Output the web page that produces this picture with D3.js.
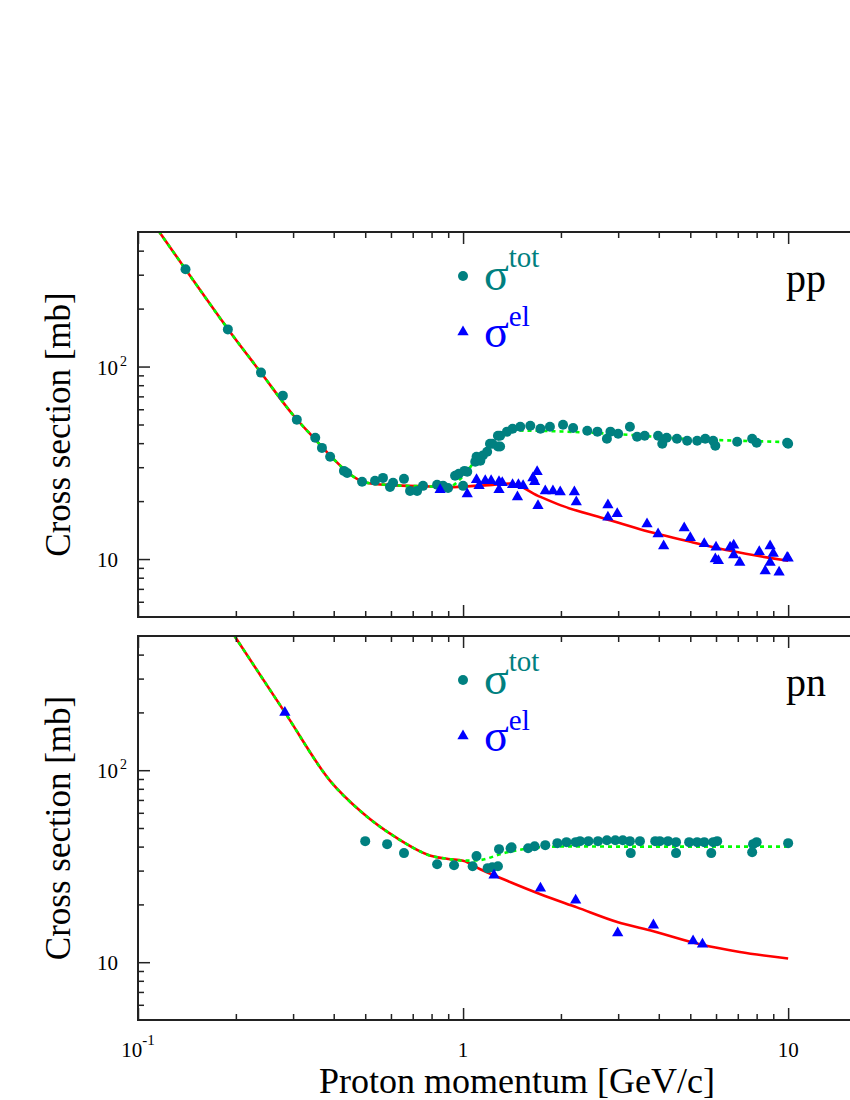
<!DOCTYPE html>
<head>
  <meta charset="utf-8" />
  <script src="https://d3js.org/d3.v7.min.js"></script>
  <style>
    body { margin: 0; background: #fff; }
  </style>
</head>
<body>
  <script>
    // data: [momentum GeV/c, cross section mb]
    var ppTot = [
      [0.14,320],[0.189,156],[0.239,93],[0.279,70.6],[0.308,53],[0.351,42.7],[0.368,37.8],[0.39,34],
      [0.43,28.7],[0.44,28],[0.489,25.2],[0.536,25.5],[0.567,26.4],[0.596,23.7],[0.609,24.9],[0.658,26.1],
      [0.687,22.6],[0.722,22.6],[0.753,24],[0.832,24.3],[0.868,24],[0.899,23.4],[0.945,27.1],[0.97,27.7],
      [1.0,24],[1.01,28.7],[1.03,28.4],[1.09,32],[1.10,34],[1.13,32.4],[1.15,34.5],[1.186,36.1],[1.21,39.7],
      [1.23,39.7],[1.28,43.7],[1.28,38.4],[1.30,38.4],[1.30,43.7],[1.365,45.9],[1.42,47.5],[1.5,48.7],
      [1.61,49.3],[1.73,47.5],[1.85,48.7],[2.03,49.9],[2.18,48],[2.41,46.4],[2.59,45.9],[2.77,42.2],
      [2.84,45.9],[3.0,44.8],[3.26,48.7],[3.43,43.2],[3.62,43.7],[3.98,43.7],[4.1,39.7],[4.23,42.7],
      [4.55,42.2],[4.89,41.2],[5.25,41.2],[5.56,42.2],[5.88,41.2],[5.97,38.8],[6.97,40.7],[7.75,42.2],
      [8.0,40.2],[9.93,40.2],[10,39.7]
    ];
    var ppEl = [
      [0.85,22.9],[1.03,21.8],[1.1,25.8],[1.12,24],[1.17,25.5],[1.22,25.5],[1.29,25.2],[1.29,22.9],
      [1.32,24.9],[1.42,24.3],[1.47,21],[1.48,24.3],[1.53,24],[1.64,26.4],[1.66,25.2],[1.69,28.4],
      [1.70,18.9],[1.79,22.6],[1.89,22.6],[1.99,22.3],[2.2,22.3],[2.23,19.8],[2.79,19.1],[2.79,16.5],
      [2.98,17.2],[3.68,15.2],[3.98,13.5],[4.14,11.7],[4.79,14.5],[5.0,12.9],[5.52,12],[6.0,11.5],
      [5.97,10],[6.1,9.8],[6.63,11.5],[6.8,11.8],[6.8,10.5],[7.1,9.6],[8.15,10.9],[8.5,8.66],[8.8,11.7],
      [9.0,10.7],[8.8,9.6],[9.38,8.55],[9.93,10.2],[10,10.1]
    ];
    var pnTot = [
      [0.5,42.7],[0.584,41.2],[0.658,37],[0.832,32.4],[0.938,32],[1.07,31.6],[1.1,35.7],[1.19,30.9],
      [1.23,31.2],[1.28,31.6],[1.29,38.8],[1.4,39.2],[1.41,39.7],[1.585,39.2],[1.66,40.2],[1.79,40.7],
      [1.95,41.7],[2.08,42.2],[2.22,42.2],[2.29,42.7],[2.43,42.7],[2.6,42.7],[2.77,43.2],[2.94,43.2],
      [3.1,43.2],[3.26,42.7],[3.28,37],[3.5,42.7],[3.9,42.7],[4.03,42.7],[4.27,42.7],[4.52,42.2],[4.52,37],
      [4.96,42.2],[5.25,42.2],[5.52,42.2],[5.88,42.2],[6.05,42.7],[5.8,37],[7.8,41.2],[8.0,42.2],
      [7.75,37.4],[10,41.7]
    ];
    var pnEl = [
      [0.283,200],[1.245,28.4],[1.73,24.3],[2.22,21],[2.99,14.2],[3.85,15.6],[5.1,12.9],[5.45,12.4]
    ];
    // model curves
    var ppLow = [[0.105,640],[0.14,320],[0.19,155],[0.24,92],[0.3,56],[0.35,42],[0.4,33],[0.45,27.5],
      [0.5,25],[0.6,24.2],[0.8,23.8],[0.9,23.6]];
    var ppElCurve = ppLow.concat([[1.0,23.8],[1.2,24.2],[1.4,24.7],[1.7,21.3],[2.0,19.0],[2.7,16.3],
      [3.5,14.3],[5,12.3],[6.7,11],[10,9.8]]);
    var ppTotCurve = ppLow.concat([[1.0,27],[1.1,33],[1.2,38],[1.3,42.5],[1.4,45.5],[1.5,46.5],[2,46],
      [3,44.5],[5,42],[7,41.2],[10,40.5]]);
    var pnLow = [[0.18,640],[0.283,200],[0.39,88],[0.49,60],[0.63,44],[0.79,36],[0.9,34.5],[1.0,33.8]];
    var pnElCurve = pnLow.concat([[1.13,30.5],[1.4,26.1],[1.73,22.6],[2.24,19.3],[2.98,16.2],[3.85,14.5],
      [5.36,12.4],[7.1,11.3],[10,10.45]]);
    var pnTotCurve = pnLow.concat([[1.1,33.9],[1.37,37.4],[1.73,39.7],[2.2,40.1],[3,40],[5,40],[10,40]]);

    var xMajor = [0.1, 1, 10];
    var xMinor = [0.2,0.3,0.4,0.5,0.6,0.7,0.8,0.9,2,3,4,5,6,7,8,9,20];
    var xLabels = [["10","-1"],["1",""],["10",""]];
    var yMajor = [10, 100];
    var yMinor = [6,7,8,9,20,30,40,50,60,70,80,90,200,300,400];
    var yLabels = [["10",""],["10","2"]];

    var width = 850, height = 1100;
    var svg = d3.select("body").append("svg").attr("width", width).attr("height", height)
      .attr("font-family", "'Liberation Serif', 'Times New Roman', Times, 'DejaVu Serif', serif");

    var x = d3.scaleLog().domain([0.1, 20]).range([138, 886]);
    var teal = "#008080", blue = "#0000ff";

    function drawPanel(top, bottom, id, tot, el, totCurve, elCurve, name, showX) {
      var y = d3.scaleLog().domain([5, 500]).range([bottom, top]);
      var g = svg.append("g");
      svg.append("clipPath").attr("id", id).append("rect")
        .attr("x", 138).attr("y", top).attr("width", 748).attr("height", bottom - top);

      var line = d3.line().x(function(d){ return x(d[0]); }).y(function(d){ return y(d[1]); })
        .curve(d3.curveMonotoneX);
      var lines = g.append("g").attr("clip-path", "url(#" + id + ")");
      lines.append("path").attr("d", line(elCurve)).attr("fill", "none")
        .attr("stroke", "#ff0000").attr("stroke-width", 2.6);
      lines.append("path").attr("d", line(totCurve)).attr("fill", "none")
        .attr("stroke", "#00ff00").attr("stroke-width", 2.6).attr("stroke-dasharray", "4,4");

      g.selectAll("circle.tot").data(tot).join("circle").attr("class", "tot")
        .attr("cx", function(d){ return x(d[0]); }).attr("cy", function(d){ return y(d[1]); })
        .attr("r", 5).attr("fill", teal);
      var tri = d3.symbol().type(d3.symbolTriangle).size(55);
      g.selectAll("path.el").data(el).join("path").attr("class", "el")
        .attr("d", tri).attr("fill", blue)
        .attr("transform", function(d){ return "translate(" + x(d[0]) + "," + y(d[1]) + ")"; });

      // frame
      g.append("rect").attr("x", 138).attr("y", top).attr("width", 748).attr("height", bottom - top)
        .attr("fill", "none").attr("stroke", "#222").attr("stroke-width", 2);

      // ticks, pointing inward
      function ticks(axis, pos, vals, size) {
        var a = g.append("g").attr("transform", pos)
          .call(axis.tickValues(vals).tickSize(size).tickFormat(""));
        a.select(".domain").remove();
        a.selectAll("line").attr("stroke", "#222").attr("stroke-width", 1.5);
      }
      ticks(d3.axisBottom(x), "translate(0," + bottom + ")", xMajor, -12);
      ticks(d3.axisBottom(x), "translate(0," + bottom + ")", xMinor, -6);
      ticks(d3.axisTop(x), "translate(0," + top + ")", xMajor, -12);
      ticks(d3.axisTop(x), "translate(0," + top + ")", xMinor, -6);
      ticks(d3.axisLeft(y), "translate(138,0)", yMajor, -12);
      ticks(d3.axisLeft(y), "translate(138,0)", yMinor, -6);

      yMajor.forEach(function(v, i) {
        g.append("text").attr("x", 118).attr("y", y(v) + 8)
          .attr("text-anchor", "end").attr("font-size", 21).text(yLabels[i][0]);
        if (yLabels[i][1]) {
          g.append("text").attr("x", 120).attr("y", y(v) - 1).attr("font-size", 14).text(yLabels[i][1]);
        }
      });

      if (showX) {
        xMajor.forEach(function(v, i) {
          var t = g.append("text").attr("x", x(v)).attr("y", bottom + 37)
            .attr("text-anchor", "middle").attr("font-size", 21);
          t.append("tspan").text(xLabels[i][0]);
          if (xLabels[i][1]) {
            t.append("tspan").attr("dy", -12).attr("font-size", 15).text(xLabels[i][1]);
          }
        });
      }

      g.append("text").attr("transform", "translate(70," + (top + bottom) / 2 + ") rotate(-90)")
        .attr("text-anchor", "middle").attr("font-size", 35).text("Cross section [mb]");

      // legend
      g.append("circle").attr("cx", 463).attr("cy", top + 44).attr("r", 5).attr("fill", teal);
      var l1 = g.append("text").attr("x", 484).attr("y", top + 58).attr("fill", teal).attr("font-size", 46);
      l1.append("tspan").text("σ");
      l1.append("tspan").attr("dy", -23).attr("font-size", 29).text("tot");
      g.append("path").attr("d", tri).attr("fill", blue)
        .attr("transform", "translate(463," + (top + 100) + ")");
      var l2 = g.append("text").attr("x", 484).attr("y", top + 115).attr("fill", blue).attr("font-size", 46);
      l2.append("tspan").text("σ");
      l2.append("tspan").attr("dy", -21).attr("font-size", 29).text("el");

      g.append("text").attr("x", 786).attr("y", top + 60).attr("font-size", 40).text(name);
    }

    drawPanel(232, 617, "clipTop", ppTot, ppEl, ppTotCurve, ppElCurve, "pp", false);
    drawPanel(636, 1020, "clipBot", pnTot, pnEl, pnTotCurve, pnElCurve, "pn", true);

    svg.append("text").attr("x", 517).attr("y", 1093).attr("text-anchor", "middle")
      .attr("font-size", 36).text("Proton momentum [GeV/c]");
  </script>
</body>
